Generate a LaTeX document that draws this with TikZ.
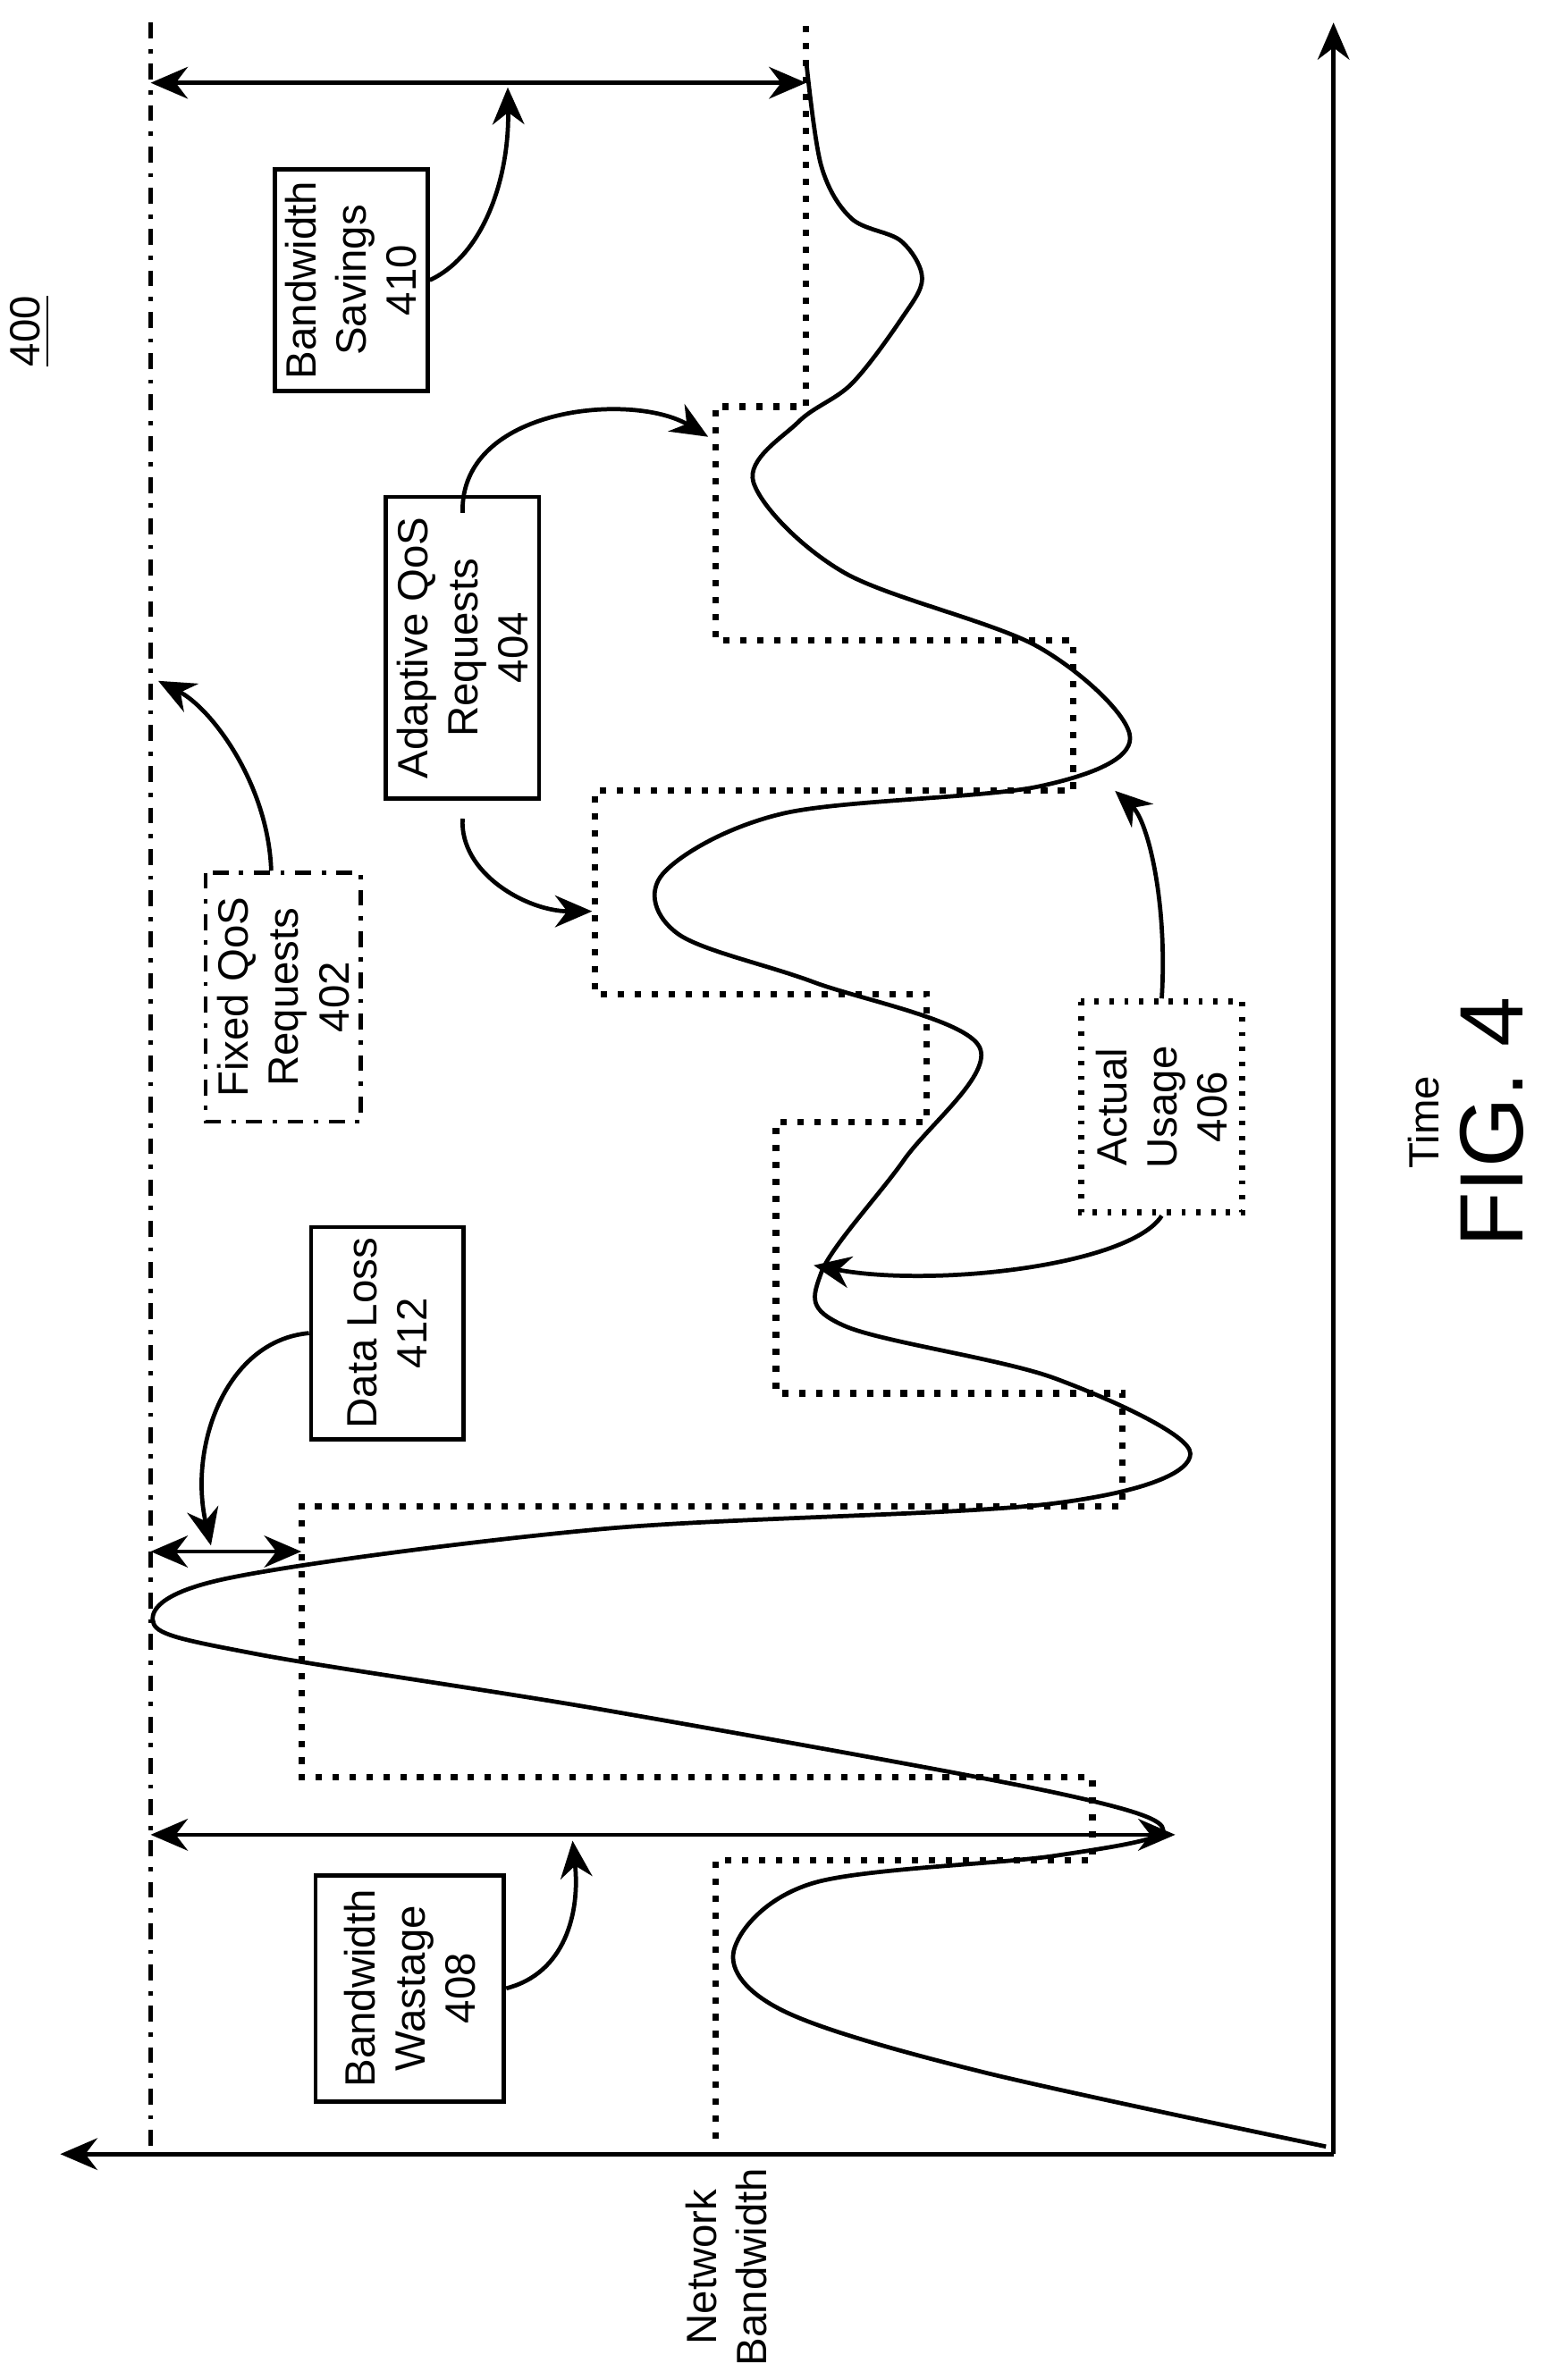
\documentclass[tikz,border=0pt]{standalone}
\usepackage{fontspec}
\setmainfont{Liberation Sans}
\usetikzlibrary{arrows.meta}
\begin{document}
\begin{tikzpicture}[x=0.01cm,y=-0.01cm]
			\tikzstyle{box} = [draw, thick, rotate=90, align=center, font=\fontsize{8}{9.5}\selectfont, inner sep=2pt]
			\tikzstyle{lab} = [rotate=90, align=center, font=\fontsize{8}{9.5}\selectfont]
			\tikzstyle{arr} = [thick, -{Stealth[length=7pt,width=6pt]}]
			\tikzstyle{darr} = [thick, {Stealth[length=7pt,width=6pt]}-{Stealth[length=7pt,width=6pt]}]
			\useasboundingbox (0,0) rectangle (1024,1580);

			% axes
			\coordinate (o) at (885,1430);
			\coordinate (ty) at (885,15);
			\coordinate (bx) at (40,1430);
			\draw [arr] (o) -- (ty);
			\draw [arr] (o) -- (bx);
			\node [lab] (nb) at (482,1505) {Network\\Bandwidth};
			\node [lab] (tm) at (945,745) {Time};
			\node [rotate=90, font=\fontsize{17}{20}\selectfont] (fig) at (990,745) {FIG. 4};
			\node [lab] (num) at (20,220) {\underline{400}};

			% fixed QoS
			\draw [thick, dash dot] (100,15) -- (100,1425);

			% adaptive QoS
			\draw [very thick, dotted] (475,1420) -- (475,1235) -- (725,1235) -- (725,1180) -- (200,1180)
				-- (200,1000) -- (745,1000) -- (745,925) -- (515,925) -- (515,745) -- (615,745) -- (615,660)
				-- (395,660) -- (395,525) -- (712,525) -- (712,425) -- (475,425) -- (475,270) -- (535,270) -- (535,15);

			% actual usage
			\draw [thick] plot [smooth, tension=0.55] coordinates {(880,1425) (650,1375) (520,1335) (487,1295)
				(540,1250) (700,1232) (772,1215) (700,1190) (400,1135) (170,1098) (102,1078) (150,1048)
				(400,1015) (700,998) (790,965) (700,915) (560,880) (545,845) (600,770)
				(650,695) (540,652) (450,620) (440,580) (520,540) (690,522) (750,490) (690,430)
				(560,380) (500,320) (530,280) (565,255) (598,212) (612,185) (598,160) (565,145) (545,110) (535,40)};

			% bandwidth wastage
			\coordinate (w1) at (100,1218);
			\coordinate (w2) at (780,1218);
			\draw [darr] (w1) -- (w2);
			\node [box, minimum width=1.5cm, minimum height=1.25cm] (bw) at (272,1320) {Bandwidth\\Wastage\\408};
			\draw [arr] (bw.south) .. controls (375,1310) and (385,1270) .. (380,1222);

			% data loss
			\coordinate (d1) at (100,1030);
			\coordinate (d2) at (200,1030);
			\draw [darr] (d1) -- (d2);
			\node [box, minimum width=1.4cm, minimum height=1.01cm] (dl) at (257,885) {Data Loss\\412};
			\draw [arr] (dl.north) .. controls (150,890) and (125,960) .. (140,1026);

			% fixed QoS requests
			\node [box, dash dot, minimum width=1.65cm, minimum height=1.03cm] (fq) at (188,662) {Fixed QoS\\Requests\\402};
			\draw [arr] ([xshift=-0.08cm]fq.east) .. controls (178,520) and (140,470) .. (105,452);

			% adaptive QoS requests
			\node [box, minimum width=2cm, minimum height=0.99cm] (aq) at (307,430) {Adaptive QoS\\Requests\\404};
			\draw [arr] ([yshift=-0.12cm]aq.east) .. controls (305,270) and (420,260) .. (470,290);
			\draw [arr] ([yshift=-0.12cm]aq.west) .. controls (305,580) and (350,605) .. (393,605);

			% actual usage
			\node [box, dotted, very thick, minimum width=1.4cm, minimum height=1.07cm] (au) at (771,735) {Actual\\Usage\\406};
			\draw [arr] (au.east) .. controls (775,600) and (762,545) .. (740,525);
			\draw [arr] (au.west) .. controls (750,840) and (620,855) .. (540,840);

			% bandwidth savings
			\coordinate (s1) at (100,55);
			\coordinate (s2) at (535,55);
			\draw [darr] (s1) -- (s2);
			\node [box, minimum width=1.47cm, minimum height=1cm] (bs) at (233,186) {Bandwidth\\Savings\\410};
			\draw [arr] (bs.south) .. controls (320,170) and (338,120) .. (337,58);
\end{tikzpicture}
\end{document}
